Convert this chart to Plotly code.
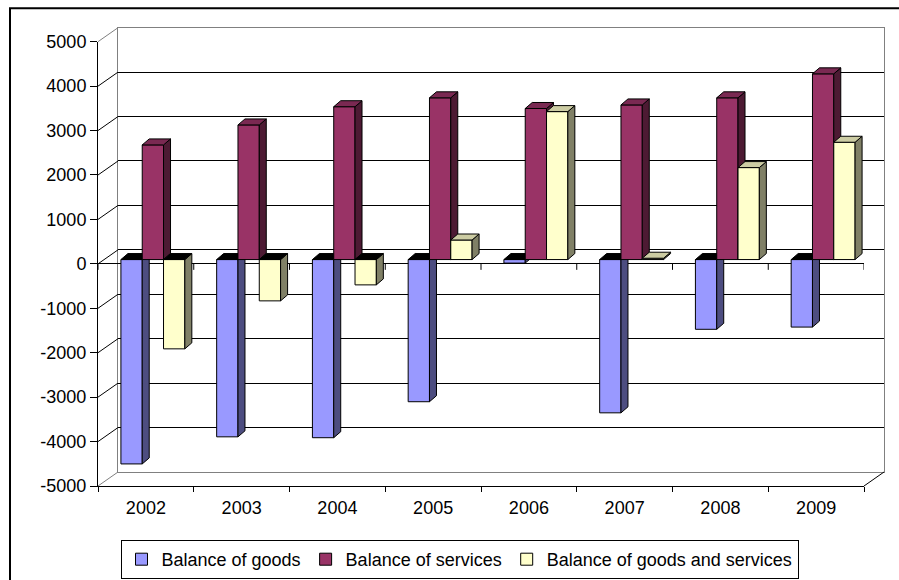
import plotly.graph_objects as go

# ---- data -------------------------------------------------------------
years = ["2002", "2003", "2004", "2005", "2006", "2007", "2008", "2009"]
goods = [-4600, -3990, -4010, -3200, -80, -3450, -1570, -1520]
services = [2580, 3030, 3440, 3640, 3400, 3480, 3640, 4180]
goods_and_services = [-2010, -930, -570, 440, 3330, 30, 2070, 2640]
series_names = ["Balance of goods", "Balance of services",
                "Balance of goods and services"]
value_ticks = list(range(-5000, 5001, 1000))
value_labels = [str(v) for v in value_ticks]

series = [goods, services, goods_and_services]
front_colors = ["#9999FF", "#993366", "#FFFFCC"]
side_colors = ["#4D4D80", "#4D1A33", "#808066"]
top_colors = ["#7A7ACC", "#7A2952", "#CCCCA3"]
neg_top_color = "#000000"

FONT = "Liberation Sans, Arial, sans-serif"

# ---- page geometry (pixels) ---------------------------------------------
W, H = 899, 580
FX0, FX1 = 98, 864          # front plane, category extent
FY_TOP, FY_BOT = 41.7, 486  # front plane, +5000 / -5000
WALL_DX, WALL_DY = 20, -14  # back wall offset
BAR_DX, BAR_DY = 7, -4.3    # plane of the bar fronts
DEPTH_DX, DEPTH_DY = 7, -6  # depth of each column

n = len(years)
cat_px = (FX1 - FX0) / n
val_px = (FY_BOT - FY_TOP) / (value_ticks[-1] - value_ticks[0])
bar_w = 0.2225


def X(px):
    return px / W


def Y(py):
    return 1 - py / H


def xdom(x0, x1):
    return [X(x0), X(x1)]


def ydom(top, bot):
    return [Y(bot), Y(top)]


def front_y(v):
    return FY_BOT - (v - value_ticks[0]) * val_px


fig = go.Figure()

# back wall (grid only)
fig.add_trace(go.Scatter(x=[0.5], y=[0], xaxis="x", yaxis="y", mode="markers",
                         marker=dict(opacity=0, size=1), hoverinfo="skip",
                         showlegend=False))
# front plane (axes, category labels)
fig.add_trace(go.Scatter(x=years, y=[0] * n, xaxis="x2", yaxis="y2", mode="markers",
                         marker=dict(opacity=0, size=1), hoverinfo="skip",
                         showlegend=False))

ddx = DEPTH_DX / cat_px
ddy = -DEPTH_DY / val_px

for k, vals in enumerate(series):
    ax = k + 3
    xs = [i + (k - 1) * bar_w for i in range(n)]
    fig.add_trace(go.Bar(
        x=xs, y=vals, width=bar_w, name=series_names[k],
        xaxis=f"x{ax}", yaxis=f"y{ax}",
        marker=dict(color=front_colors[k], line=dict(color="black", width=1)),
        hoverinfo="skip"))

    side_x, side_y = [], []
    pos_x, pos_y, neg_x, neg_y = [], [], [], []
    for xc, v in zip(xs, vals):
        xl, xr = xc - bar_w / 2, xc + bar_w / 2
        t, b = max(v, 0), min(v, 0)
        side_x += [xr, xr, xr + ddx, xr + ddx, xr, None]
        side_y += [b, t, t + ddy, b + ddy, b, None]
        tx = [xl, xr, xr + ddx, xl + ddx, xl, None]
        ty = [t, t, t + ddy, t + ddy, t, None]
        if v >= 0:
            pos_x += tx
            pos_y += ty
        else:
            neg_x += tx
            neg_y += ty
    for px_, py_, col in [(side_x, side_y, side_colors[k]),
                          (pos_x, pos_y, top_colors[k]),
                          (neg_x, neg_y, neg_top_color)]:
        if not px_:
            continue
        fig.add_trace(go.Scatter(
            x=px_, y=py_, xaxis=f"x{ax}", yaxis=f"y{ax}", mode="lines",
            fill="toself", fillcolor=col, line=dict(color="black", width=1),
            hoverinfo="skip", showlegend=False))

layout = dict(
    width=W, height=H, autosize=False,
    margin=dict(l=0, r=0, t=0, b=0, pad=0, autoexpand=False),
    paper_bgcolor="white", plot_bgcolor="rgba(0,0,0,0)",
    barmode="overlay", showlegend=True,
    font=dict(family=FONT, size=18, color="black"),
    xaxis=dict(domain=xdom(FX0 + WALL_DX, FX1 + WALL_DX), anchor="y", range=[0, 1],
               showgrid=False, zeroline=False, showticklabels=False, ticks="",
               showline=True, mirror=True, linecolor="#808080", linewidth=1,
               automargin=False, fixedrange=True),
    yaxis=dict(domain=ydom(FY_TOP + WALL_DY, FY_BOT + WALL_DY), anchor="x",
               range=[value_ticks[0], value_ticks[-1]], tickvals=value_ticks,
               showgrid=True, gridcolor="black", gridwidth=1, zeroline=False,
               showticklabels=False, ticks="", showline=True, mirror=True,
               linecolor="#808080", linewidth=1, automargin=False, fixedrange=True),
    xaxis2=dict(domain=xdom(FX0, FX1), anchor="y2", type="category",
                categoryorder="array", categoryarray=years, range=[-0.5, n - 0.5],
                tickson="boundaries", ticks="outside", ticklen=5, tickcolor="black",
                ticklabelstandoff=5,
                showline=True, linecolor="black", linewidth=1, showgrid=False,
                zeroline=False, tickfont=dict(family=FONT, size=18, color="black"),
                automargin=False, fixedrange=True),
    yaxis2=dict(domain=ydom(FY_TOP, FY_BOT), anchor="x2",
                range=[value_ticks[0], value_ticks[-1]], tickvals=value_ticks,
                ticktext=value_labels, ticks="outside", ticklen=7, tickcolor="black",
                showline=True, linecolor="black", linewidth=1, showgrid=False,
                zeroline=True, zerolinecolor="black", zerolinewidth=1,
                tickfont=dict(family=FONT, size=18, color="black"),
                automargin=False, fixedrange=True),
    legend=dict(orientation="h", x=X((132 + 787) / 2), xanchor="center",
                y=Y(579), yanchor="bottom", bordercolor="black", borderwidth=1,
                bgcolor="white", itemwidth=30, traceorder="normal",
                font=dict(family=FONT, size=18, color="black")),
)
for k in range(len(series)):
    ax = k + 3
    layout[f"xaxis{ax}"] = dict(domain=xdom(FX0 + BAR_DX, FX1 + BAR_DX), anchor=f"y{ax}",
                                range=[-0.5, n - 0.5], visible=False,
                                automargin=False, fixedrange=True)
    layout[f"yaxis{ax}"] = dict(domain=ydom(FY_TOP + BAR_DY, FY_BOT + BAR_DY),
                                anchor=f"x{ax}",
                                range=[value_ticks[0], value_ticks[-1]], visible=False,
                                automargin=False, fixedrange=True)
fig.update_layout(**layout)

shapes = []
# outer chart frame
shapes.append(dict(type="rect", xref="paper", yref="paper", x0=X(10), x1=1.05,
                   y0=-0.05, y1=Y(8.3), line=dict(color="black", width=2),
                   fillcolor="rgba(0,0,0,0)", layer="below"))
# side wall: one diagonal per value tick
for v in value_ticks:
    edge = v in (value_ticks[0], value_ticks[-1])
    shapes.append(dict(type="line", xref="paper", yref="paper",
                       x0=X(FX0), y0=Y(front_y(v)),
                       x1=X(FX0 + WALL_DX), y1=Y(front_y(v) + WALL_DY),
                       line=dict(color="#808080" if edge else "black", width=1)))
# floor, right edge
shapes.append(dict(type="line", xref="paper", yref="paper",
                   x0=X(FX1), y0=Y(FY_BOT),
                   x1=X(FX1 + WALL_DX), y1=Y(FY_BOT + WALL_DY),
                   line=dict(color="black", width=1)))
# category tick marks along the zero level
tick_len_units = 6 / val_px
for j in range(n + 1):
    shapes.append(dict(type="line", xref="x2", yref="y2", x0=j - 0.5, x1=j - 0.5,
                       y0=0, y1=-tick_len_units, line=dict(color="black", width=1),
                       layer="below"))
fig.update_layout(shapes=shapes)

fig.write_html("out.html")
